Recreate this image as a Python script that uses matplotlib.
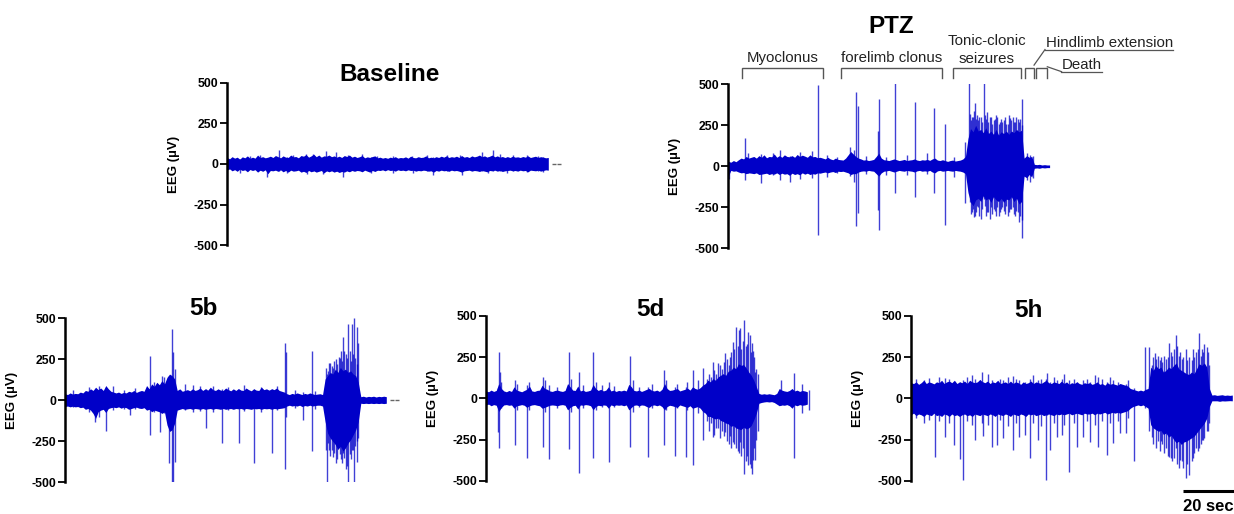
import numpy as np
import matplotlib
matplotlib.use('Agg')
import matplotlib.pyplot as plt

plt.rcParams['font.family'] = ['Liberation Sans', 'DejaVu Sans']

# ---------------- data (time in s, amplitude in microvolts) ----------------
Y_TICKS = [-500, -250, 0, 250, 500]
Y_TICK_LABELS = ['-500', '-250', '0', '250', '500']

# envelopes of the dense trace, one value per second (t = 0 .. 126 s)
ENV_T = list(range(127))

# ---- Baseline
base_env_hi = [40, 32, 45, 36, 42, 30, 44, 38, 50, 35,
               42, 36, 55, 40, 45, 38, 42, 48, 40, 52,
               45, 38, 50, 42, 40, 55, 44, 46, 38, 52,
               48, 58, 42, 50, 60, 45, 55, 42, 50, 48,
               55, 45, 50, 42, 48, 40, 52, 46, 55, 42,
               48, 40, 45, 52, 38, 44, 40, 46, 50, 38,
               42, 36, 40, 35, 42, 38, 45, 36, 40, 38,
               44, 36, 48, 40, 38, 45, 40, 42, 50, 38,
               42, 38, 45, 40, 48, 42, 50, 40, 45, 42,
               48, 40, 52, 42, 46, 40, 50, 44, 48, 55,
               45, 50, 42, 48, 55, 44, 50, 42, 46, 40,
               45, 40, 48, 42, 44, 40, 46, 42, 50, 40,
               44, 48, 40, 45, 42, 38, 40]
base_env_lo = [-38, -30, -42, -35, -45, -32, -40, -36, -48, -34,
               -40, -35, -50, -38, -45, -36, -60, -40, -42, -38,
               -45, -36, -48, -40, -50, -38, -44, -42, -38, -50,
               -45, -52, -40, -48, -42, -50, -45, -40, -55, -42,
               -48, -42, -50, -44, -52, -46, -50, -42, -48, -40,
               -45, -40, -42, -48, -38, -44, -50, -40, -46, -38,
               -40, -36, -42, -35, -40, -38, -44, -36, -40, -38,
               -42, -36, -40, -38, -44, -40, -42, -38, -40, -44,
               -42, -50, -40, -44, -38, -42, -40, -45, -38, -42,
               -40, -44, -50, -42, -40, -38, -44, -40, -42, -46,
               -40, -44, -48, -40, -42, -38, -44, -40, -46, -42,
               -40, -38, -42, -40, -44, -38, -42, -40, -48, -38,
               -40, -42, -38, -44, -40, -36, -38]
base_spk_t = [5.1, 9.0, 12.9, 15.8, 20.4, 23.4, 26.0, 30.8, 31.2, 33.9, 37.8, 38.7, 42.6, 45.6,
              47.6, 52.8, 56.3, 58.7, 65.2, 72.4, 73.0, 78.3, 80.9, 86.1, 91.4, 92.0, 99.9,
              102.5, 104.4, 107.0, 109.7, 112.3, 117.5, 122.0, 124.0]
base_spk_hi = [30, 50, 55, 35, 86, 40, 55, 62, 40, 60, 45, 80, 75, 45, 58, 62, 40, 50, 48, 52,
               35, 55, 40, 58, 55, 40, 75, 40, 86, 62, 40, 55, 55, 52, 40]
base_spk_lo = [-55, -30, -35, -78, -40, -55, -35, -40, -60, -40, -60, -45, -40, -82, -40, -45,
               -58, -35, -55, -35, -55, -40, -68, -40, -40, -68, -45, -58, -40, -40, -55, -40,
               -50, -40, -50]

# ---- PTZ
ptz_env_hi = [30, 25, 35, 28, 40, 50, 45, 60, 50, 55,
              60, 50, 65, 55, 70, 52, 60, 58, 75, 55,
              65, 55, 70, 60, 58, 65, 55, 72, 60, 68,
              62, 55, 70, 58, 60, 52, 55, 50, 45, 55,
              45, 40, 50, 42, 40, 38, 50, 70, 90, 75,
              60, 50, 45, 38, 40, 35, 38, 42, 60, 80,
              50, 40, 38, 35, 40, 45, 40, 35, 38, 42,
              35, 38, 40, 45, 38, 35, 40, 38, 42, 36,
              45, 50, 38, 35, 40, 35, 30, 35, 38, 32,
              35, 38, 45, 60, 170, 230, 210, 250, 215, 225,
              205, 235, 200, 215, 195, 225, 190, 210, 200, 215,
              195, 215, 205, 225, 210, 220, 50, 65, 55, 60,
              12, 10, 12, 8, 10, 8, 8]
ptz_env_lo = [-60, -25, -30, -28, -35, -40, -38, -45, -40, -42,
              -45, -40, -50, -48, -45, -42, -50, -45, -48, -40,
              -50, -42, -48, -45, -55, -42, -50, -45, -52, -40,
              -48, -42, -50, -45, -48, -40, -42, -38, -35, -40,
              -35, -32, -38, -30, -32, -30, -35, -40, -50, -45,
              -45, -35, -30, -28, -30, -25, -28, -30, -45, -60,
              -40, -30, -28, -25, -30, -35, -30, -25, -28, -30,
              -25, -28, -30, -35, -28, -25, -30, -28, -30, -25,
              -35, -40, -28, -25, -30, -28, -25, -28, -30, -25,
              -28, -30, -35, -45, -160, -220, -240, -205, -195, -215,
              -180, -205, -195, -220, -185, -205, -215, -195, -220, -200,
              -205, -185, -215, -195, -230, -215, -60, -70, -50, -65,
              -12, -10, -12, -8, -10, -8, -8]
ptz_spk_t = [0.2, 6.5, 7.8, 12.8, 17.6, 20.3, 24.2, 28.1, 32.7, 35.0, 38.6, 42.5, 47.7, 49.2,
             50.0, 50.8, 54.0, 58.8, 59.1, 62.0, 65.4, 69.9, 73.2, 77.8, 80.7, 85.0, 88.5, 92.8,
             94.5, 94.8, 95.2, 95.5, 96.0, 96.3, 96.7, 97.2, 97.6, 98.0, 98.5, 99.2, 99.6,
             100.4, 100.8, 101.2, 101.5, 102.0, 102.6, 103.2, 103.6, 104.0, 104.5, 105.0,
             105.5, 106.0, 106.5, 107.0, 107.5, 108.0, 108.5, 109.0, 109.5, 110.0, 110.5,
             111.0, 111.5, 112.0, 112.4, 113.0, 113.5, 114.1, 114.5, 115.0, 115.3,
             117.0, 118.3, 119.6]
ptz_spk_hi = [20, 175, 80, 75, 83, 100, 60, 90, 95, 496, 69, 59, 120, 100, 455, 368, 60, 215,
              410, 55, 508, 69, 394, 79, 358, 258, 59, 150,
              506, 320, 280, 300, 300, 340, 384, 290, 310, 280, 300, 300, 270,
              506, 310, 290, 333, 270, 300, 300, 260, 280, 290, 313,
              300, 260, 270, 290, 270, 280, 300, 260, 260, 310, 293,
              280, 300, 270, 272, 300, 290, 272, 290, 410, 250,
              79, 69, 60]
ptz_spk_lo = [-80, -83, -40, -100, -50, -83, -94, -80, -70, -419, -63, -40, -60, -94, -362,
              -287, -45, -266, -388, -50, -160, -50, -185, -45, -165, -358, -63, -225,
              -150, -220, -290, -280, -260, -310, -300, -280, -240, -250, -300, -320, -260,
              -200, -240, -300, -280, -280, -320, -250, -290, -260, -270, -300,
              -250, -300, -280, -260, -250, -270, -290, -240, -300, -280, -260,
              -260, -250, -290, -300, -270, -280, -340, -300, -439, -330,
              -83, -94, -73]
ptz_phase_lines = [['Myoclonus'], ['forelimb clonus'], ['Tonic-clonic', 'seizures'],
                   ['Hindlimb extension'], ['Death']]
ptz_phase_start = [5.3, 44.3, 88.2, 116.2, 120.8]
ptz_phase_end = [37.0, 83.9, 114.6, 119.9, 125.1]

# ---- 5b
b_env_hi = [40, 35, 45, 38, 42, 40, 50, 45, 60, 55,
            70, 60, 80, 65, 75, 60, 90, 70, 55, 50,
            45, 50, 42, 48, 45, 55, 50, 60, 48, 55,
            60, 55, 90, 70, 100, 85, 110, 95, 120, 100,
            140, 160, 150, 130, 60, 70, 55, 60, 65, 58,
            70, 60, 65, 75, 60, 70, 62, 80, 65, 60,
            70, 62, 60, 75, 65, 58, 70, 60, 72, 62,
            60, 75, 65, 58, 70, 62, 60, 80, 65, 70,
            62, 70, 65, 75, 60, 55, 50, 40, 35, 42,
            38, 45, 40, 35, 42, 38, 45, 40, 35, 38,
            40, 35, 130, 150, 170, 160, 190, 170, 200, 180,
            190, 170, 180, 160, 150, 110, 22, 25, 20, 24,
            22, 25, 20, 24, 22, 25, 22]
b_env_lo = [-38, -35, -40, -36, -40, -38, -45, -42, -55, -50,
            -60, -80, -110, -70, -60, -55, -75, -50, -45, -42,
            -45, -40, -48, -42, -45, -55, -50, -45, -42, -48,
            -50, -45, -60, -55, -70, -60, -65, -70, -80, -70,
            -150, -190, -180, -140, -60, -55, -50, -55, -52, -50,
            -55, -50, -52, -55, -50, -55, -52, -50, -55, -50,
            -52, -55, -50, -55, -52, -50, -55, -50, -52, -50,
            -55, -50, -52, -55, -50, -52, -50, -55, -50, -52,
            -50, -55, -50, -52, -50, -48, -45, -35, -30, -35,
            -32, -35, -30, -38, -32, -35, -30, -35, -32, -30,
            -30, -35, -130, -200, -230, -250, -270, -300, -280, -310,
            -290, -260, -240, -210, -180, -130, -18, -20, -18, -20,
            -18, -20, -18, -20, -18, -20, -18]
b_spk_t = [3.0, 9.5, 11.8, 13.5, 16.1, 19.0, 23.0, 25.5, 27.5, 33.3, 35.0, 37.3, 37.9, 39.0,
           40.8, 41.8, 42.2, 43.1, 47.0, 50.0, 53.0, 55.2, 58.0, 61.7, 64.0, 68.2, 70.0, 74.1,
           77.0, 81.0, 83.0, 86.3, 86.7, 90.0, 93.5, 96.7, 98.0,
           102.2, 102.6, 103.0, 103.5, 104.0, 104.6, 105.2, 105.6, 106.4, 106.8, 107.5, 107.8,
           108.3, 108.8, 109.2, 109.6, 110.2, 110.6, 111.1, 111.6, 112.0, 112.4, 112.9, 113.5,
           113.8, 114.4, 114.7, 115.0]
b_spk_hi = [60, 80, 60, 90, 75, 85, 60, 50, 75, 270, 110, 80, 148, 140, 150, 435, 297, 189,
            100, 95, 85, 70, 90, 70, 80, 60, 95, 70, 80, 70, 85, 348, 297, 60, 50, 303, 55,
            200, 160, 180, 230, 230, 210, 200, 240, 250, 220, 262, 260,
            300, 240, 388, 300, 280, 260, 466, 300, 240, 466, 280, 500,
            260, 449, 220, 352]
b_spk_lo = [-40, -70, -130, -100, -190, -60, -55, -90, -50, -211, -70, -191, -60, -80, -384,
            -500, -500, -374, -60, -70, -65, -167, -70, -262, -60, -262, -65, -380, -70, -323,
            -60, -419, -100, -45, -120, -307, -50,
            -300, -500, -260, -300, -340, -300, -344, -320, -380, -360, -250, -330,
            -360, -380, -323, -350, -420, -400, -500, -330, -360, -300, -300, -500,
            -280, -374, -250, -232]

# ---- 5d
d_env_hi = [45, 40, 50, 42, 48, 90, 60, 45, 40, 48,
            42, 70, 50, 45, 40, 48, 55, 75, 45, 42,
            48, 50, 80, 60, 55, 45, 42, 48, 50, 45,
            42, 48, 90, 70, 50, 48, 75, 45, 50, 42,
            45, 50, 85, 60, 48, 55, 45, 50, 70, 45,
            50, 42, 48, 45, 50, 45, 85, 70, 48, 45,
            50, 42, 48, 55, 60, 48, 45, 50, 42, 55,
            90, 60, 48, 50, 55, 60, 45, 50, 55, 62,
            50, 70, 60, 55, 65, 80, 90, 110, 100, 120,
            110, 130, 140, 150, 140, 165, 170, 190, 180, 210,
            200, 205, 185, 160, 140, 110, 70, 30, 25, 28,
            25, 28, 25, 22, 30, 60, 50, 45, 42, 48,
            60, 45, 50, 42, 48, 45, 40]
d_env_lo = [-40, -35, -45, -38, -42, -80, -55, -40, -38, -42,
            -40, -60, -45, -42, -38, -42, -55, -45, -40, -38,
            -42, -45, -60, -55, -48, -42, -40, -42, -45, -40,
            -38, -42, -70, -55, -45, -42, -65, -40, -42, -38,
            -40, -45, -70, -50, -42, -45, -40, -42, -60, -40,
            -45, -40, -42, -40, -45, -40, -70, -55, -42, -40,
            -45, -40, -42, -50, -55, -42, -40, -45, -40, -50,
            -70, -50, -42, -45, -50, -55, -40, -45, -50, -55,
            -45, -60, -55, -50, -60, -80, -90, -110, -110, -120,
            -125, -120, -135, -140, -150, -155, -170, -165, -180, -185,
            -190, -175, -185, -180, -165, -130, -90, -30, -25, -22,
            -20, -22, -20, -25, -35, -45, -40, -42, -38, -45,
            -60, -40, -45, -38, -42, -40, -35]
d_spk_t = [4.8, 5.1, 5.4, 6.0, 11.4, 12.0, 16.2, 17.0, 22.2, 23.0, 24.7, 28.0, 32.7, 33.5,
           36.5, 38.0, 42.1, 43.0, 45.5, 48.4, 50.0, 56.5, 57.5, 60.0, 63.4, 65.0, 69.8, 70.5,
           74.1, 75.0, 78.4, 79.0, 81.3, 83.0, 85.2,
           86.5, 87.5, 88.3, 88.9, 89.5, 90.3, 91.1, 91.8, 92.5, 93.2, 93.7, 94.5, 95.2, 95.7,
           96.2, 96.7, 97.3, 98.1, 98.7, 99.3, 99.6, 100.0, 100.6, 101.3, 101.8, 102.4,
           102.9, 103.5, 103.8, 104.2, 104.8, 105.0, 105.5, 106.0, 106.5,
           115.6, 120.6, 123.9, 126.5]
d_spk_hi = [60, 283, 162, 100, 111, 90, 81, 100, 128, 110, 80, 70, 283, 120, 162, 80, 283,
            100, 80, 101, 75, 257, 110, 70, 70, 90, 172, 110, 70, 90, 70, 100, 172, 110, 182,
            120, 150, 130, 222, 170, 150, 212, 200, 180, 220, 273, 240, 200, 253,
            280, 344, 300, 435, 320, 415, 425, 300, 350, 476, 320, 330,
            405, 384, 280, 334, 287, 250, 162, 180, 150,
            111, 156, 90, 50]
d_spk_lo = [-202, -300, -50, -60, -283, -70, -364, -70, -293, -80, -368, -60, -310, -80,
            -451, -60, -360, -70, -55, -385, -55, -293, -80, -55, -354, -60, -283, -70, -348,
            -60, -358, -70, -405, -90, -253,
            -140, -200, -150, -233, -220, -180, -180, -240, -200, -230, -203, -260, -280, -230,
            -300, -263, -280, -300, -320, -334, -263, -350, -300, -461, -380, -350,
            -405, -400, -420, -460, -374, -300, -374, -250, -200,
            -40, -364, -90, -70]

# ---- 5h
h_env_hi = [95, 90, 100, 85, 95, 110, 90, 100, 95, 88,
            100, 95, 110, 90, 100, 105, 95, 110, 90, 100,
            95, 105, 90, 110, 100, 95, 100, 115, 100, 95,
            105, 90, 100, 95, 110, 90, 95, 100, 90, 105,
            90, 100, 95, 85, 100, 90, 95, 105, 90, 100,
            95, 90, 100, 110, 95, 90, 100, 95, 90, 105,
            90, 100, 85, 95, 90, 100, 90, 85, 95, 90,
            95, 85, 90, 100, 85, 90, 80, 95, 85, 90,
            85, 80, 90, 85, 80, 75, 60, 55, 50, 45,
            50, 45, 55, 60, 190, 170, 200, 180, 190, 160,
            170, 190, 180, 200, 215, 180, 170, 160, 150, 145,
            160, 150, 180, 210, 200, 215, 190, 60, 20, 22,
            18, 20, 22, 18, 20, 18, 20]
h_env_lo = [-100, -90, -105, -95, -100, -110, -95, -100, -105, -90,
            -105, -100, -110, -95, -100, -110, -95, -105, -100, -110,
            -100, -95, -105, -100, -110, -95, -100, -105, -95, -100,
            -105, -95, -100, -110, -95, -100, -105, -95, -100, -110,
            -95, -100, -105, -95, -100, -110, -95, -100, -95, -105,
            -100, -95, -105, -100, -95, -100, -105, -95, -100, -95,
            -100, -95, -90, -100, -95, -90, -95, -100, -90, -95,
            -95, -90, -100, -90, -95, -90, -85, -95, -90, -85,
            -90, -85, -90, -85, -80, -75, -60, -50, -45, -40,
            -45, -40, -50, -60, -160, -180, -190, -200, -195, -220,
            -210, -235, -225, -250, -270, -260, -280, -265, -260, -250,
            -240, -230, -210, -190, -170, -150, -120, -50, -15, -15,
            -15, -18, -15, -16, -15, -14, -15]
h_spk_t = [2, 5, 7, 9.4, 11, 13.3, 15, 16.9, 19.2, 20.3, 22, 24, 25.1, 27.7, 28.4, 30, 31.6,
           33.6, 35, 36.2, 38, 39.9, 41, 42.4, 44.7, 46.7, 48, 49.7, 51, 52.9, 53.2, 54.5, 56,
           57.1, 59.3, 60, 62.0, 64, 65.0, 67.6, 69, 70.2, 72, 73.2, 75, 76.7, 78, 79.3, 81,
           82.0, 84.3, 85, 87.6, 91.8,
           93.5, 94.4, 94.9, 95.5, 96.0, 96.8, 97.5, 98.0, 98.6, 99.4, 100.0, 100.7, 101.2,
           101.8, 102.5, 103.2, 103.8, 104.5, 105.0, 105.5, 106.2, 106.8, 107.8, 108.4, 109.2,
           110.0, 110.5, 111.0, 111.8, 112.5, 113.1, 113.6, 114.0, 114.5, 115.0, 115.9, 116.4,
           116.8]
h_spk_hi = [120, 110, 125, 90, 130, 121, 120, 100, 100, 110, 130, 140, 120, 162, 100, 150, 110,
            100, 120, 110, 130, 136, 120, 110, 100, 120, 140, 110, 120, 120, 156, 100, 130,
            110, 120, 150, 110, 120, 100, 110, 120, 100, 140, 130, 120, 100, 130, 110, 100, 90,
            90, 110, 60, 310,
            310, 200, 250, 273, 240, 260, 230, 250, 220, 260, 240, 250, 334,
            280, 260, 300, 385, 320, 260, 280, 240, 250, 300, 230, 250,
            230, 300, 250, 280, 300, 395, 260, 300, 280, 330, 314, 280,
            200]
h_spk_lo = [-120, -150, -130, -354, -140, -233, -150, -283, -370, -496, -140, -160, -253, -150,
            -229, -160, -293, -283, -130, -243, -170, -314, -150, -233, -223, -360, -150, -253,
            -170, -496, -100, -314, -150, -233, -225, -160, -445, -150, -293, -233, -140, -263,
            -160, -293, -140, -344, -150, -273, -140, -213, -213, -120, -378, -60,
            -200, -233, -280, -150, -300, -260, -320, -260, -280, -330, -300, -350, -354,
            -360, -380, -360, -300, -400, -420, -374, -380, -420, -486, -400, -466,
            -380, -364, -330, -300, -320, -300, -280, -250, -250, -240, -200, -200,
            -150]

SCALE_BAR_SEC = 20

# ---------------- layout ----------------
W, H = 1234, 514
PX_PER_SEC = 2.55
XMAX = 132
TRACE = '#0000C8'

fig = plt.figure(figsize=(W / 100, H / 100), dpi=100)


def rect(x0, ytop, ybot):
    w = XMAX * PX_PER_SEC
    return [x0 / W, (H - ybot) / H, w / W, (ybot - ytop) / H]


def panel(r, env_hi, env_lo, spk_t, spk_hi, spk_lo, dots=False):
    ax = fig.add_axes(r)
    ax.fill_between(ENV_T, env_lo, env_hi, color=TRACE, lw=0)
    ax.vlines(spk_t, spk_lo, spk_hi, color=TRACE, lw=1.0, alpha=0.75)
    if dots:
        ax.plot([128.4, 130.0], [0, 0], ls='none', marker='_', ms=2.2, mew=1.0,
                color='#666666')
    ax.set_xlim(0, XMAX)
    ax.set_ylim(-500, 500)
    for s in ['top', 'right', 'bottom']:
        ax.spines[s].set_visible(False)
    ax.spines['left'].set_linewidth(1.8)
    ax.spines['left'].set_bounds(-500, 500)
    ax.set_xticks([])
    ax.set_yticks(Y_TICKS)
    ax.set_yticklabels(Y_TICK_LABELS, fontsize=8.8, fontweight='bold')
    ax.tick_params(axis='y', length=5, width=1.3, pad=1.5)
    ax.set_ylabel('EEG (µV)', fontsize=9.5, fontweight='bold')
    wpx = XMAX * PX_PER_SEC
    ax.yaxis.set_label_coords(-47 / wpx, 0.5)
    ax.patch.set_alpha(0)
    return ax


ax_base = panel(rect(227, 82.7, 245.3), base_env_hi, base_env_lo,
                base_spk_t, base_spk_hi, base_spk_lo, dots=True)
ax_ptz = panel(rect(728.3, 84.3, 248.3), ptz_env_hi, ptz_env_lo,
               ptz_spk_t, ptz_spk_hi, ptz_spk_lo)
ax_b = panel(rect(65, 318.3, 482.3), b_env_hi, b_env_lo,
             b_spk_t, b_spk_hi, b_spk_lo, dots=True)
ax_d = panel(rect(486, 316, 480.7), d_env_hi, d_env_lo,
             d_spk_t, d_spk_hi, d_spk_lo)
ax_h = panel(rect(911, 316, 480.7), h_env_hi, h_env_lo,
             h_spk_t, h_spk_hi, h_spk_lo)


# titles (pixel positions of centre / baseline)
def ftext(x, y, s, **kw):
    fig.text(x / W, 1 - y / H, s, **kw)


for (x, y, s) in [(390, 80.7, 'Baseline'), (891.7, 33.3, 'PTZ'), (203, 315, '5b'),
                  (650, 316, '5d'), (1028, 316.7, '5h')]:
    ftext(x, y, s, fontsize=17.5, fontweight='bold', ha='center', va='baseline')

# PTZ phase brackets
BR_TOP, BR_BOT = 602, 540
BR_COL = '#555555'
TXT_COL = '#222222'
for i, (lines, s0, s1) in enumerate(zip(ptz_phase_lines, ptz_phase_start, ptz_phase_end)):
    ax_ptz.plot([s0, s0, s1, s1], [BR_BOT, BR_TOP, BR_TOP, BR_BOT], color=BR_COL, lw=1.0,
                clip_on=False, solid_joinstyle='miter')
    if i < 3:
        cx = (s0 + s1) / 2
        ys = [634] if len(lines) == 1 else [740, 628]
        for ln, yy in zip(lines, ys):
            ax_ptz.text(cx, yy, ln, ha='center', va='baseline', fontsize=10.8, color=TXT_COL)

t_hind = ax_ptz.text(124.6, 726, ptz_phase_lines[3][0], ha='left', va='baseline',
                     fontsize=10.8, color=TXT_COL)
t_death = ax_ptz.text(130.9, 591, ptz_phase_lines[4][0], ha='left', va='baseline',
                      fontsize=10.8, color=TXT_COL)
ax_ptz.plot([119.9, 124.2], [617, 712], color=BR_COL, lw=0.9, clip_on=False)
ax_ptz.plot([125.1, 130.7], [607, 577], color=BR_COL, lw=0.9, clip_on=False)

fig.canvas.draw()
r = fig.canvas.get_renderer()
inv = ax_ptz.transData.inverted()
for t, yline in [(t_hind, 712), (t_death, 577)]:
    bb = t.get_window_extent(r)
    x1 = inv.transform((bb.x1, bb.y0))[0]
    ax_ptz.plot([t.get_position()[0] - 0.4, x1], [yline, yline], color=BR_COL, lw=0.9,
                clip_on=False)

# scale bar on 5h
sb_end = 126.7
ax_h.plot([sb_end - SCALE_BAR_SEC, sb_end], [-563, -563], color='black', lw=2.2,
          clip_on=False, solid_capstyle='butt')
ax_h.text(sb_end - SCALE_BAR_SEC / 2, -684, f'{SCALE_BAR_SEC} sec', ha='center',
          va='baseline', fontsize=12, fontweight='bold')

fig.savefig('out.png', dpi=100)
